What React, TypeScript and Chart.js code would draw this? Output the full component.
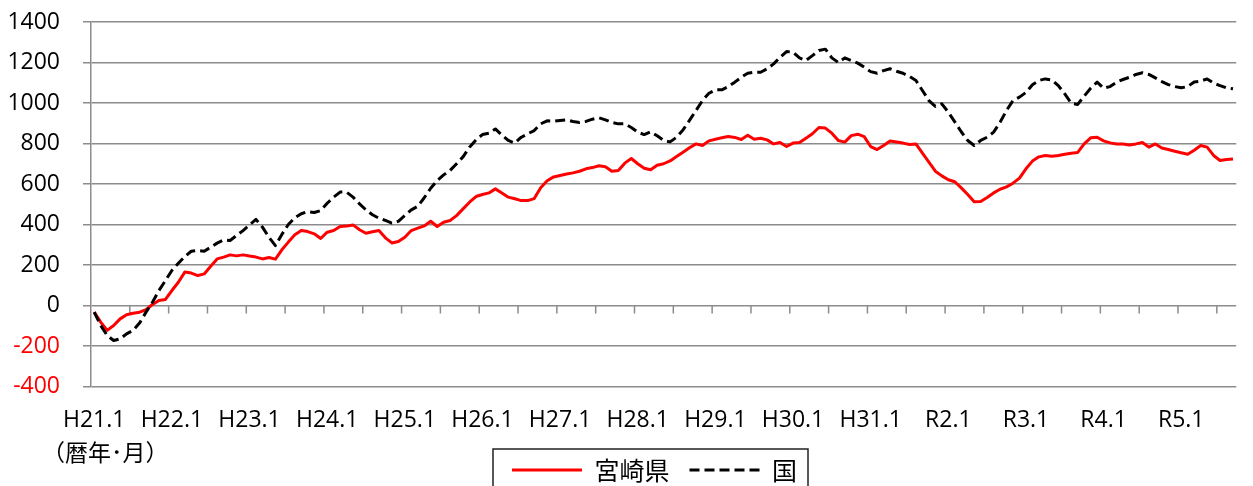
import React, { useEffect, useRef } from "react";
import { Chart, registerables } from "chart.js";

Chart.register(...registerables);

// ---- data ----
const eraYears = ["H21", "H22", "H23", "H24", "H25", "H26", "H27", "H28", "H29", "H30", "H31", "R2", "R3", "R4", "R5"];
const months = [1, 2, 3, 4, 5, 6, 7, 8, 9, 10, 11, 12];

const miyazaki = [
  -33, -82, -123, -99, -66, -46, -38, -33, -21, 5,
  25, 30, 74, 115, 165, 160, 148, 156, 194, 230,
  239, 250, 245, 250, 244, 239, 230, 237, 229, 275,
  313, 349, 370, 365, 354, 331, 362, 370, 390, 392,
  398, 374, 357, 364, 370, 334, 309, 316, 337, 370,
  382, 393, 416, 390, 411, 420, 444, 477, 510, 538,
  548, 556, 576, 556, 535, 527, 518, 518, 528, 581,
  616, 635, 642, 649, 655, 663, 675, 681, 690, 685,
  663, 667, 703, 726, 700, 678, 670, 693, 700, 714,
  736, 757, 779, 798, 790, 813, 821, 828, 835, 830,
  820, 841, 821, 826, 818, 798, 805, 785, 802, 805,
  826, 848, 879, 876, 851, 815, 807, 839, 846, 834,
  785, 770, 790, 812, 807, 802, 795, 798, 752, 708,
  663, 640, 621, 611, 581, 548, 512, 514, 533, 556,
  574, 586, 604, 629, 675, 713, 734, 741, 737, 741,
  747, 752, 756, 798, 828, 831, 813, 803, 798, 798,
  793, 798, 805, 782, 798, 778, 770, 762, 754, 747,
  767, 790, 782, 741, 716, 721, 724,
];

const kuni = [
  -33, -99, -148, -173, -165, -140, -123, -87, -33, 16,
  74, 123, 173, 209, 242, 268, 272, 268, 288, 308,
  324, 321, 346, 370, 398, 425, 387, 337, 296, 351,
  400, 433, 453, 464, 459, 469, 505, 535, 560, 560,
  535, 502, 472, 448, 431, 420, 407, 416, 444, 472,
  490, 532, 579, 617, 645, 667, 700, 734, 782, 818,
  844, 851, 872, 841, 815, 802, 831, 848, 864, 897,
  912, 910, 914, 917, 909, 904, 909, 920, 927, 917,
  904, 897, 897, 879, 856, 844, 858, 838, 815, 808,
  831, 867, 914, 963, 1012, 1048, 1065, 1065, 1081, 1103,
  1127, 1147, 1152, 1152, 1169, 1193, 1226, 1254, 1251, 1223,
  1210, 1234, 1259, 1266, 1223, 1200, 1223, 1210, 1197, 1177,
  1155, 1147, 1160, 1169, 1157, 1147, 1131, 1111, 1062, 1012,
  983, 996, 955, 907, 858, 815, 790, 815, 831, 856,
  905, 963, 1012, 1029, 1052, 1090, 1111, 1119, 1114, 1086,
  1045, 999, 993, 1034, 1073, 1103, 1073, 1081, 1103, 1116,
  1127, 1141, 1149, 1141, 1124, 1106, 1091, 1081, 1075, 1081,
  1104, 1108, 1119, 1098, 1086, 1075, 1070,
];

const categories = eraYears
  .flatMap((y) => months.map((m) => `${y}.${m}`))
  .slice(0, miyazaki.length);

const seriesNames = ["宮崎県", "国"];
const unitLabel = "（暦年･月）";
const yMin = -400;
const yMax = 1400;
const yStep = 200;

// ---- styles ----
const GRID = "#8c8c8c";
const LATIN = "'Open Sans', 'Liberation Sans', sans-serif";
const CJK = "'Noto Sans CJK JP', 'Noto Sans', sans-serif";
const LEGEND_SHIFT = 28;

const xTickMarks = {
  id: "xTickMarks",
  beforeDatasetsDraw(chart: any) {
    const x = chart.scales.x;
    const y = chart.scales.y;
    const y0 = y.getPixelForValue(0);
    const step = x.getPixelForValue(1) - x.getPixelForValue(0);
    const ctx = chart.ctx;
    ctx.save();
    ctx.strokeStyle = GRID;
    ctx.lineWidth = 1.5;
    ctx.beginPath();
    for (let i = 6; i < categories.length; i += 6) {
      const px = x.getPixelForValue(i) - step / 2;
      ctx.moveTo(px, y0);
      ctx.lineTo(px, y0 + 8);
    }
    ctx.stroke();
    ctx.restore();
  },
};

const legendShift = {
  id: "legendShift",
  afterLayout(chart: any) {
    const lg = chart.legend;
    if (lg) {
      lg.left += LEGEND_SHIFT;
      lg.right += LEGEND_SHIFT;
    }
  },
};

const extras = {
  id: "extras",
  afterDraw(chart: any) {
    const ctx = chart.ctx;
    const ca = chart.chartArea;
    // unit label
    ctx.save();
    ctx.font = `23px ${CJK}`;
    ctx.textBaseline = "middle";
    ctx.textAlign = "left";
    ctx.fillStyle = "#000";
    ctx.fillText(unitLabel, ca.left - 49, ca.bottom + 65.5);
    ctx.restore();
    // legend frame
    const hb = chart.legend && chart.legend.legendHitBoxes;
    if (hb && hb.length) {
      const last = hb[hb.length - 1];
      const left = hb[0].left - 19;
      const right = last.left + last.width + 11;
      const top = hb[0].top - 8.5;
      ctx.save();
      ctx.strokeStyle = "#222";
      ctx.lineWidth = 1.5;
      ctx.strokeRect(left, top, right - left, chart.height - top + 20);
      ctx.restore();
    }
  },
};

export default function App() {
  const ref = useRef<HTMLCanvasElement | null>(null);

  useEffect(() => {
    if (!ref.current) return;
    const chart = new Chart(ref.current, {
      type: "line",
      data: {
        labels: categories,
        datasets: [
          {
            label: seriesNames[0],
            data: miyazaki,
            borderColor: "#ff0000",
            backgroundColor: "#ff0000",
            borderWidth: 3,
            pointRadius: 0,
            pointHoverRadius: 0,
            tension: 0,
            borderJoinStyle: "round",
            order: 1,
          },
          {
            label: seriesNames[1],
            data: kuni,
            borderColor: "#000000",
            backgroundColor: "#000000",
            borderWidth: 3,
            borderDash: [10, 5],
            pointRadius: 0,
            pointHoverRadius: 0,
            tension: 0,
            borderJoinStyle: "round",
            order: 0,
          },
        ],
      },
      options: {
        animation: false,
        responsive: true,
        maintainAspectRatio: false,
        layout: { autoPadding: false, padding: { left: 0, right: 0, top: 22, bottom: 7.5 } },
        plugins: {
          tooltip: { enabled: false },
          legend: {
            display: true,
            position: "bottom",
            align: "center",
            labels: {
              usePointStyle: true,
              pointStyle: "line",
              pointStyleWidth: 70,
              padding: 20,
              color: "#000",
              font: { family: CJK, size: 25 },
              generateLabels: (ch: any) =>
                ch.data.datasets.map((ds: any, i: number) => ({
                  text: ds.label,
                  fillStyle: ds.borderColor,
                  strokeStyle: ds.borderColor,
                  fontColor: "#000",
                  lineWidth: ds.borderWidth,
                  lineDash: ds.borderDash || [],
                  lineCap: "butt",
                  pointStyle: "line",
                  rotation: 0,
                  hidden: false,
                  datasetIndex: i,
                })),
            },
          },
        },
        scales: {
          x: {
            type: "category",
            offset: true,
            grid: { display: false, drawTicks: false },
            border: { display: false },
            afterFit: (s: any) => {
              s.height = 51;
            },
            ticks: {
              autoSkip: false,
              maxRotation: 0,
              minRotation: 0,
              padding: 20,
              color: "#000",
              font: { family: LATIN, size: 23 },
              callback: (_v: any, i: number) => (i % 12 === 0 ? categories[i] : ""),
            },
          },
          y: {
            min: yMin,
            max: yMax,
            afterFit: (s: any) => {
              s.width = 91;
              s.paddingTop = 0;
              s.paddingBottom = 0;
            },
            grid: {
              color: GRID,
              lineWidth: 1.5,
              drawTicks: true,
              tickLength: 8,
            },
            border: { display: true, color: GRID, width: 1.5 },
            ticks: {
              stepSize: yStep,
              padding: 23,
              font: { family: LATIN, size: 23 },
              color: (c: any) => (c.tick && c.tick.value < 0 ? "#ff0000" : "#000000"),
              callback: (v: any) => String(v),
            },
          },
        },
      },
      plugins: [xTickMarks, legendShift, extras],
    });
    return () => chart.destroy();
  }, []);

  return (
    <div
      style={{
        position: "fixed",
        left: 0,
        top: 0,
        width: 1253,
        height: 486,
        overflow: "hidden",
        background: "#fff",
      }}
    >
      <div style={{ position: "relative", width: 1253, height: 500 }}>
        <canvas ref={ref} />
      </div>
    </div>
  );
}
